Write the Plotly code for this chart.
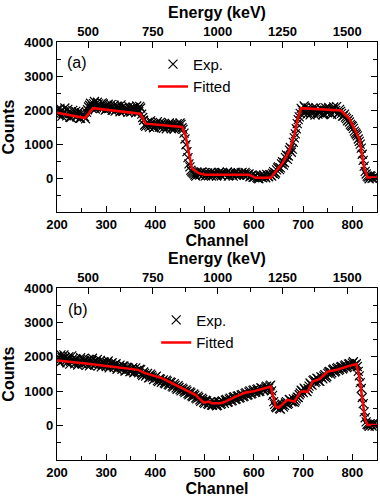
import plotly.graph_objects as go

# Experimental counts, one value every 4 channels starting at channel 200
exp_a = [2010, 1850, 1980, 1890, 2060, 1830, 1940, 1780, 1990, 1870,
         1800, 1950, 1760, 1880, 1800, 1930, 2090, 2200, 2120, 2250,
         2080, 2180, 2040, 2210, 2100, 2030, 2170, 2060, 1990, 2140,
         2010, 2100, 1950, 2080, 1980, 2060, 1930, 2040, 1960, 2080,
         1920, 2030, 2110, 1880, 1700, 1520, 1640, 1500, 1610, 1480,
         1580, 1660, 1500, 1590, 1460, 1570, 1510, 1620, 1450, 1560,
         1490, 1600, 1470, 1580, 1430, 1150, 780, 420, 230, 160,
         90, 180, 110, 150, 80, 160, 120, 70, 170, 110,
         140, 60, 150, 100, 170, 90, 130, 60, 160, 110,
         140, 80, 150, 100, 170, 90, 130, 110, 40, 90,
         20, 80, -10, 60, 30, 90, 10, 70, 100, 60,
         190, 150, 300, 250, 420, 380, 600, 550, 820, 760,
         1050, 1300, 1600, 1800, 2050, 1920, 2080, 1880, 2010, 1910,
         2060, 1850, 1990, 1920, 2050, 1870, 2000, 1940, 2080, 1900,
         2030, 1960, 2100, 1920, 1960, 1820, 1880, 1750, 1720, 1580,
         1520, 1380, 1290, 1150, 1000, 700, 350, 120, 30, 70,
         -10, 40, 10]
# ... and the channels in between (202, 206, ...)
exp_a_mid = [1900, 2050, 1820, 1950, 1880, 2020, 1790, 1900, 1840, 1960,
             1870, 1760, 1920, 1830, 1740, 2010, 2140, 2060, 2190, 2030,
             2230, 2110, 2060, 2180, 2000, 2130, 2050, 2160, 2040, 1970,
             2120, 2030, 2150, 1960, 2090, 2010, 2100, 1940, 2060, 1990,
             2120, 1950, 2060, 1780, 1560, 1600, 1540, 1680, 1560, 1500,
             1610, 1550, 1640, 1520, 1600, 1450, 1560, 1530, 1610, 1440,
             1550, 1510, 1620, 1480, 1320, 980, 600, 330, 190, 130,
             60, 150, 90, 180, 120, 70, 150, 110, 60, 160,
             120, 90, 170, 70, 140, 110, 180, 80, 130, 60,
             170, 120, 90, 150, 110, 170, 80, 120, 70, 30,
             60, 20, -20, 80, 10, 50, 110, 40, 90, 140,
             110, 240, 330, 300, 480, 450, 680, 650, 900, 850,
             1180, 1450, 1720, 1900, 2000, 2120, 1950, 2060, 1860, 1980,
             1930, 2070, 1880, 1960, 2020, 1890, 2060, 1920, 2000, 1870,
             2090, 1990, 1880, 2020, 1900, 1830, 1790, 1680, 1650, 1540,
             1460, 1330, 1240, 1080, 880, 520, 200, 60, -20, 50,
             0, 60, 20]

exp_b = [2020, 1880, 2060, 1900, 1990, 1830, 2010, 1870, 1950, 1800,
         1920, 1830, 1980, 1790, 1890, 1760, 1930, 1820, 1960, 1780,
         1890, 1740, 1900, 1770, 1850, 1720, 1880, 1750, 1830, 1690,
         1800, 1700, 1760, 1640, 1730, 1600, 1690, 1570, 1650, 1540,
         1680, 1590, 1640, 1500, 1560, 1440, 1520, 1400, 1460, 1340,
         1420, 1310, 1370, 1260, 1330, 1220, 1290, 1180, 1250, 1120,
         1170, 1060, 1110, 1010, 1060, 960, 1000, 900, 950, 840,
         880, 780, 820, 710, 760, 650, 720, 620, 700, 590,
         680, 580, 670, 620, 720, 650, 760, 690, 800, 730,
         840, 780, 870, 820, 910, 860, 960, 900, 1010, 940,
         1040, 980, 1070, 1000, 1090, 1030, 1120, 1060, 1150, 1010,
         700, 550, 620, 500, 590, 540, 660, 620, 760, 690,
         780, 720, 830, 900, 1030, 960, 1060, 990, 1150, 1200,
         1310, 1250, 1380, 1300, 1420, 1360, 1480, 1430, 1560, 1500,
         1620, 1560, 1660, 1610, 1700, 1650, 1740, 1690, 1790, 1720,
         1820, 1760, 1800, 1580, 1250, 820, 400, 110, 20, 60,
         -10, 50, 0]
exp_b_mid = [1940, 1830, 1990, 2060, 1880, 1960, 1790, 2030, 1880, 1940,
             1760, 1900, 1810, 1950, 1830, 1880, 1740, 1900, 1850, 1770,
             1930, 1800, 1710, 1860, 1790, 1830, 1680, 1800, 1740, 1780,
             1640, 1730, 1690, 1740, 1590, 1700, 1640, 1580, 1690, 1560,
             1610, 1540, 1630, 1460, 1520, 1480, 1390, 1500, 1410, 1370,
             1440, 1280, 1350, 1300, 1240, 1320, 1200, 1270, 1150, 1220,
             1100, 1160, 1050, 1090, 1000, 1040, 930, 980, 870, 920,
             810, 860, 750, 800, 680, 740, 640, 680, 600, 700,
             610, 590, 680, 640, 690, 740, 680, 770, 720, 820,
             760, 850, 800, 890, 840, 930, 880, 980, 920, 1020,
             960, 1050, 990, 1100, 1040, 1070, 1150, 1090, 1180, 880,
             620, 520, 580, 480, 620, 590, 700, 650, 740, 700,
             680, 780, 820, 950, 1000, 1090, 1010, 1080, 1240, 1180,
             1340, 1290, 1360, 1290, 1400, 1440, 1390, 1520, 1580, 1540,
             1650, 1590, 1690, 1640, 1720, 1680, 1770, 1710, 1800, 1750,
             1860, 1770, 1720, 1450, 1080, 640, 230, 40, -20, 30,
             60, -10, 20]

ch_a = list(range(200, 200 + 4 * len(exp_a), 4)) + list(range(202, 202 + 4 * len(exp_a_mid), 4))
ch_b = list(range(200, 200 + 4 * len(exp_b), 4)) + list(range(202, 202 + 4 * len(exp_b_mid), 4))
counts_a = exp_a + exp_a_mid
counts_b = exp_b + exp_b_mid

# Fitted curves, read at the knots of the red line
fit_ch_a = [200, 257, 273, 369, 380, 454, 461, 467, 474, 488, 500, 590, 603,
            634, 658, 671, 682, 689, 696, 777, 794, 814, 824, 831, 850]
fit_a = [1920, 1765, 2055, 1890, 1600, 1505, 1260, 775, 290, 145, 100, 100, 10,
         10, 436, 775, 1260, 1744, 2055, 1985, 1744, 1160, 290, 20, 20]

fit_ch_b = [200, 263, 365, 379, 413, 433, 454, 467, 481, 488, 498, 508, 515,
            532, 542, 563, 583, 597, 631, 634, 644, 650, 660, 668, 682, 695,
            702, 709, 719, 733, 750, 767, 794, 808, 814, 821, 826, 831, 850]
fit_b = [1895, 1800, 1624, 1527, 1382, 1236, 1090, 991, 895, 800, 670, 700, 653,
         653, 700, 846, 962, 991, 1120, 1140, 554, 520, 650, 750, 700, 991,
         1000, 980, 1283, 1352, 1574, 1622, 1740, 1790, 1430, 700, 166, 20, 20]

channel_ticks = [200, 300, 400, 500, 600, 700, 800]
energy_ticks = [500, 750, 1000, 1250, 1500]
count_ticks = [0, 1000, 2000, 3000, 4000]
channel_range = [200, 850]
energy_range = [380, 1615]
count_range = [-1000, 4000]

FONT = "Liberation Sans"
tick_font = dict(family=FONT, size=13, color="black", weight="bold")
title_font = dict(family=FONT, size=16, color="black", weight="bold")

fig = go.Figure()

for ch, cnt, fch, fit, xa, ya, xe, lg in [
        (ch_a, counts_a, fit_ch_a, fit_a, "x", "y", "x3", "legend"),
        (ch_b, counts_b, fit_ch_b, fit_b, "x2", "y2", "x4", "legend2")]:
    fig.add_trace(go.Scatter(x=ch, y=cnt, mode="markers", name="Exp.",
                             marker=dict(symbol="x-thin", size=9, color="black",
                                         line=dict(width=1.2, color="black")),
                             xaxis=xa, yaxis=ya, legend=lg))
    fig.add_trace(go.Scatter(x=fch, y=fit, mode="lines", name="Fitted",
                             line=dict(color="#ff0000", width=2.5),
                             xaxis=xa, yaxis=ya, legend=lg))
    # empty helper so the top energy axis gets drawn
    fig.add_trace(go.Scatter(x=energy_ticks, y=[None] * len(energy_ticks), mode="markers",
                             showlegend=False, hoverinfo="skip", xaxis=xe, yaxis=ya))

common = dict(showline=True, linecolor="black", linewidth=1.3, ticks="inside",
              ticklen=6, tickwidth=1.3, tickcolor="black", tickfont=tick_font,
              showgrid=False, zeroline=False)
minor = dict(ticks="inside", ticklen=3.5, tickwidth=1.3, tickcolor="black", showgrid=False)

chan_axis = dict(common, range=channel_range, tickvals=channel_ticks,
                 minor=dict(minor, dtick=50, tick0=200),
                 title=dict(text="Channel", font=title_font, standoff=2))
energy_axis = dict(common, range=energy_range, tickvals=energy_ticks, side="top",
                   minor=dict(minor, dtick=125, tick0=500),
                   title=dict(text="Energy (keV)", font=title_font, standoff=1))
count_axis = dict(common, range=count_range, tickvals=count_ticks, mirror="ticks",
                  minor=dict(minor, dtick=500, tick0=0),
                  title=dict(text="Counts", font=title_font, standoff=6))

legend_style = dict(font=dict(family=FONT, size=15, color="black"),
                    bgcolor="rgba(0,0,0,0)", xanchor="left", yanchor="top",
                    tracegroupgap=0, itemwidth=30)

fig.update_layout(
    width=380, height=499,
    margin=dict(l=57, r=3, t=42, b=39),
    paper_bgcolor="white", plot_bgcolor="white",
    xaxis=dict(chan_axis, anchor="y"),
    yaxis=dict(count_axis, anchor="x", domain=[0.593, 1]),
    xaxis2=dict(chan_axis, anchor="y2"),
    yaxis2=dict(count_axis, anchor="x2", domain=[0, 0.411]),
    xaxis3=dict(energy_axis, anchor="y", overlaying="x"),
    xaxis4=dict(energy_axis, anchor="y2", overlaying="x2"),
    legend=dict(legend_style, x=0.3, y=0.986),
    legend2=dict(legend_style, x=0.31, y=0.374),
    annotations=[
        dict(text="(a)", x=0.024, y=0.95, xref="paper", yref="paper", showarrow=False,
             xanchor="left", yanchor="middle", font=dict(family=FONT, size=16, color="black")),
        dict(text="(b)", x=0.028, y=0.361, xref="paper", yref="paper", showarrow=False,
             xanchor="left", yanchor="middle", font=dict(family=FONT, size=16, color="black")),
    ],
)

fig.write_html("out.html", config={"displayModeBar": False},
               post_script="document.body.style.margin='0';")
